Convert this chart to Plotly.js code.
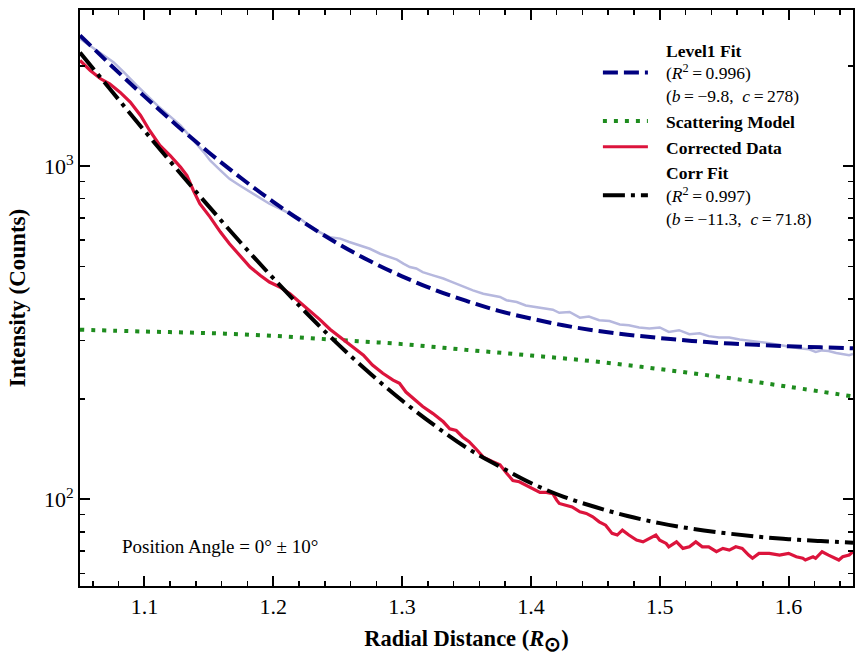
<!DOCTYPE html>
<html>
<head>
<meta charset="utf-8">
<script src="https://cdn.plot.ly/plotly-3.0.1.min.js"></script>
<style>html,body{margin:0;padding:0;background:#fff;}#chart{width:865px;height:659px;}</style>
</head>
<body>
<div id="chart"></div>
<script>
// Level1 (uncorrected) data
const level1R = [1.050,1.063,1.076,1.084,1.094,1.110,1.128,1.146,1.151,1.159,1.166,1.174,1.182,1.190,1.197,1.205,1.213,1.221,1.228,1.236,1.244,1.252,1.259,1.267,1.275,1.283,1.290,1.296,1.301,1.306,1.311,1.316,1.324,1.332,1.339,1.347,1.355,1.363,1.370,1.376,1.381,1.389,1.396,1.404,1.412,1.417,1.422,1.430,1.438,1.445,1.453,1.461,1.469,1.476,1.484,1.492,1.500,1.507,1.515,1.523,1.531,1.538,1.546,1.554,1.562,1.569,1.577,1.585,1.593,1.600,1.608,1.616,1.621,1.626,1.631,1.637,1.642,1.647,1.650];
const level1I = [2410,2220,2050,1913,1746,1521,1325,1102,1040,971,916,875,836,798,771,745,720,695,664,634,612,606,592,578,565,546,533,524,510,498,493,481,470,460,449,436,424,414,409,405,396,391,382,378,374,371,363,365,351,354,345,343,335,333,328,326,328,318,322,313,315,309,306,306,302,299,297,294,290,287,284,282,277,280,279,275,273,271,273];

// Level1 fit
const fitR = [1.050,1.075,1.100,1.125,1.150,1.175,1.200,1.225,1.250,1.275,1.300,1.325,1.350,1.375,1.400,1.425,1.450,1.475,1.500,1.525,1.550,1.575,1.600,1.625,1.650];
const level1Fit = [2467,1991,1619,1327,1099,921,781,672,586,519,467,426,394,368,349,333,321,312,305,299,294,291,288,286,284];

// Scattering model
const scatR = [1.05,1.10,1.15,1.20,1.25,1.30,1.35,1.40,1.45,1.50,1.55,1.60,1.65];
const scatI = [323,319,315.5,309.7,301,292.4,281,270.4,259.4,246,232.3,217.8,203.7];

// Corrected data
const corrR = [1.050,1.058,1.066,1.073,1.081,1.089,1.097,1.104,1.112,1.120,1.128,1.133,1.138,1.143,1.151,1.159,1.166,1.174,1.182,1.190,1.197,1.205,1.213,1.221,1.228,1.236,1.244,1.248,1.254,1.262,1.270,1.277,1.285,1.293,1.298,1.303,1.310,1.316,1.324,1.332,1.337,1.342,1.347,1.352,1.358,1.363,1.370,1.376,1.381,1.386,1.391,1.399,1.407,1.412,1.417,1.420,1.422,1.427,1.432,1.438,1.443,1.448,1.453,1.458,1.463,1.467,1.471,1.476,1.482,1.487,1.492,1.497,1.500,1.505,1.507,1.513,1.518,1.523,1.528,1.533,1.538,1.544,1.549,1.554,1.559,1.564,1.569,1.572,1.577,1.585,1.593,1.600,1.606,1.611,1.613,1.619,1.621,1.626,1.631,1.637,1.639,1.642,1.647,1.650];
const corrI = [2075,1936,1828,1766,1667,1556,1419,1279,1153,1076,993,937,845,771,703,634,585,540,498,470,449,434,414,389,369,347,324,315,304,287,271,253,239,228,223,210,199,190,181,171,163,161,154,149,141,134,130,127,120,114,113,109,105,105,104,99.5,97.3,96.1,95.0,91.8,90.8,88.7,85.7,83.7,79.1,78.2,80.9,78.2,75.5,74.6,76.4,78.2,75.5,73.8,72.1,74.6,71.3,72.1,74.6,72.1,72.1,69.7,71.3,70.5,72.1,71.3,68.1,66.6,68.9,68.9,68.1,68.9,67.3,66.6,65.8,67.3,66.6,69.7,68.1,66.6,65.8,67.3,68.1,69.7];

// Corrected fit
const corrFit = [2192,1671,1277,980,757,588,461,365,293,239,198,167,143,126,112,102,94.9,89.2,84.9,81.7,79.3,77.4,76.0,75.0,74.2];

const yTickVals = [100,1000];
const yTickText = ['10<sup>2</sup>','10<sup>3</sup>'];
const yMinorVals = [60,70,80,90,200,300,400,500,600,700,800,900,2000];
const xTickVals = [1.1,1.2,1.3,1.4,1.5,1.6];
const xTickText = ['1.1','1.2','1.3','1.4','1.5','1.6'];
const xMinorVals = [1.06,1.08,1.12,1.14,1.16,1.18,1.22,1.24,1.26,1.28,1.32,1.34,1.36,1.38,1.42,1.44,1.46,1.48,1.52,1.54,1.56,1.58,1.62,1.64];

const serif = 'Liberation Serif, Times New Roman, serif';
const pad = '\u00a0\u00a0\u00a0';

const traces = [
  {x: level1R, y: level1I, mode:'lines', line:{color:'rgb(182,184,222)', width:2.5}, showlegend:false, hoverinfo:'skip'},
  {x: fitR, y: level1Fit, mode:'lines', line:{color:'#000080', width:4, dash:'15px,6px', shape:'spline'},
   name: pad+'<b>Level1 Fit</b><br>'+pad+'(<i>R</i><sup>2</sup>\u2009=\u20090.996)<br>'+pad+'(<i>b</i>\u2009=\u2009\u22129.8,  <i>c</i>\u2009=\u2009278)'},
  {x: scatR, y: scatI, mode:'lines', line:{color:'#1e8c1e', width:4, dash:'4px,7px', shape:'spline'},
   name: pad+'<b>Scattering Model</b>'},
  {x: corrR, y: corrI, mode:'lines', line:{color:'#dc143c', width:3.2}, name: pad+'<b>Corrected Data</b>'},
  {x: fitR, y: corrFit, mode:'lines', line:{color:'#000000', width:4, dash:'22px,6px,4px,6px', shape:'spline'},
   name: pad+'<b>Corr Fit</b><br>'+pad+'(<i>R</i><sup>2</sup>\u2009=\u20090.997)<br>'+pad+'(<i>b</i>\u2009=\u2009\u221211.3,  <i>c</i>\u2009=\u200971.8)'}
];

const layout = {
  width:865, height:659,
  margin:{l:80, r:12, t:10, b:73},
  paper_bgcolor:'#fff', plot_bgcolor:'#fff',
  font:{family:serif, color:'#000', size:22},
  showlegend:true,
  legend:{x:0.67, y:0.962, xanchor:'left', yanchor:'top', bgcolor:'rgba(0,0,0,0)', font:{family:serif, size:17.5, color:'#000'}, itemwidth:45, tracegroupgap:0},
  xaxis:{
    range:[1.05,1.65], showgrid:false, zeroline:false,
    showline:true, linewidth:2, linecolor:'#000', mirror:'allticks',
    ticks:'inside', ticklen:10, tickwidth:2, tickcolor:'#000',
    tickvals:xTickVals, ticktext:xTickText,
    tickfont:{family:serif, size:22},
    minor:{tickvals:xMinorVals, ticks:'inside', ticklen:5, tickwidth:1.5, tickcolor:'#000', showgrid:false},
    title:{text:'<b>Radial Distance (<i>R</i><sub><span style="font-size:20px">\u2299</span></sub>)</b>', font:{family:serif, size:22.5}, standoff:12}
  },
  yaxis:{
    type:'log', range:[Math.log10(55), Math.log10(2940)], showgrid:false, zeroline:false,
    showline:true, linewidth:2, linecolor:'#000', mirror:'allticks',
    ticks:'inside', ticklen:10, tickwidth:2, tickcolor:'#000',
    tickvals:yTickVals, ticktext:yTickText, tickfont:{family:serif, size:22},
    minor:{tickvals:yMinorVals, ticks:'inside', ticklen:5, tickwidth:1.5, tickcolor:'#000', showgrid:false},
    title:{text:'<b>Intensity (Counts)</b>', font:{family:serif, size:23}, standoff:12}
  },
  annotations:[{
    xref:'paper', yref:'paper', x:0.052, y:0.068, xanchor:'left', yanchor:'middle',
    text:'Position Angle = 0\u00b0 \u00b1 10\u00b0', showarrow:false, font:{family:serif, size:19, color:'#000'}
  }]
};

Plotly.newPlot('chart', traces, layout, {staticPlot:true, displayModeBar:false});
</script>
</body>
</html>
